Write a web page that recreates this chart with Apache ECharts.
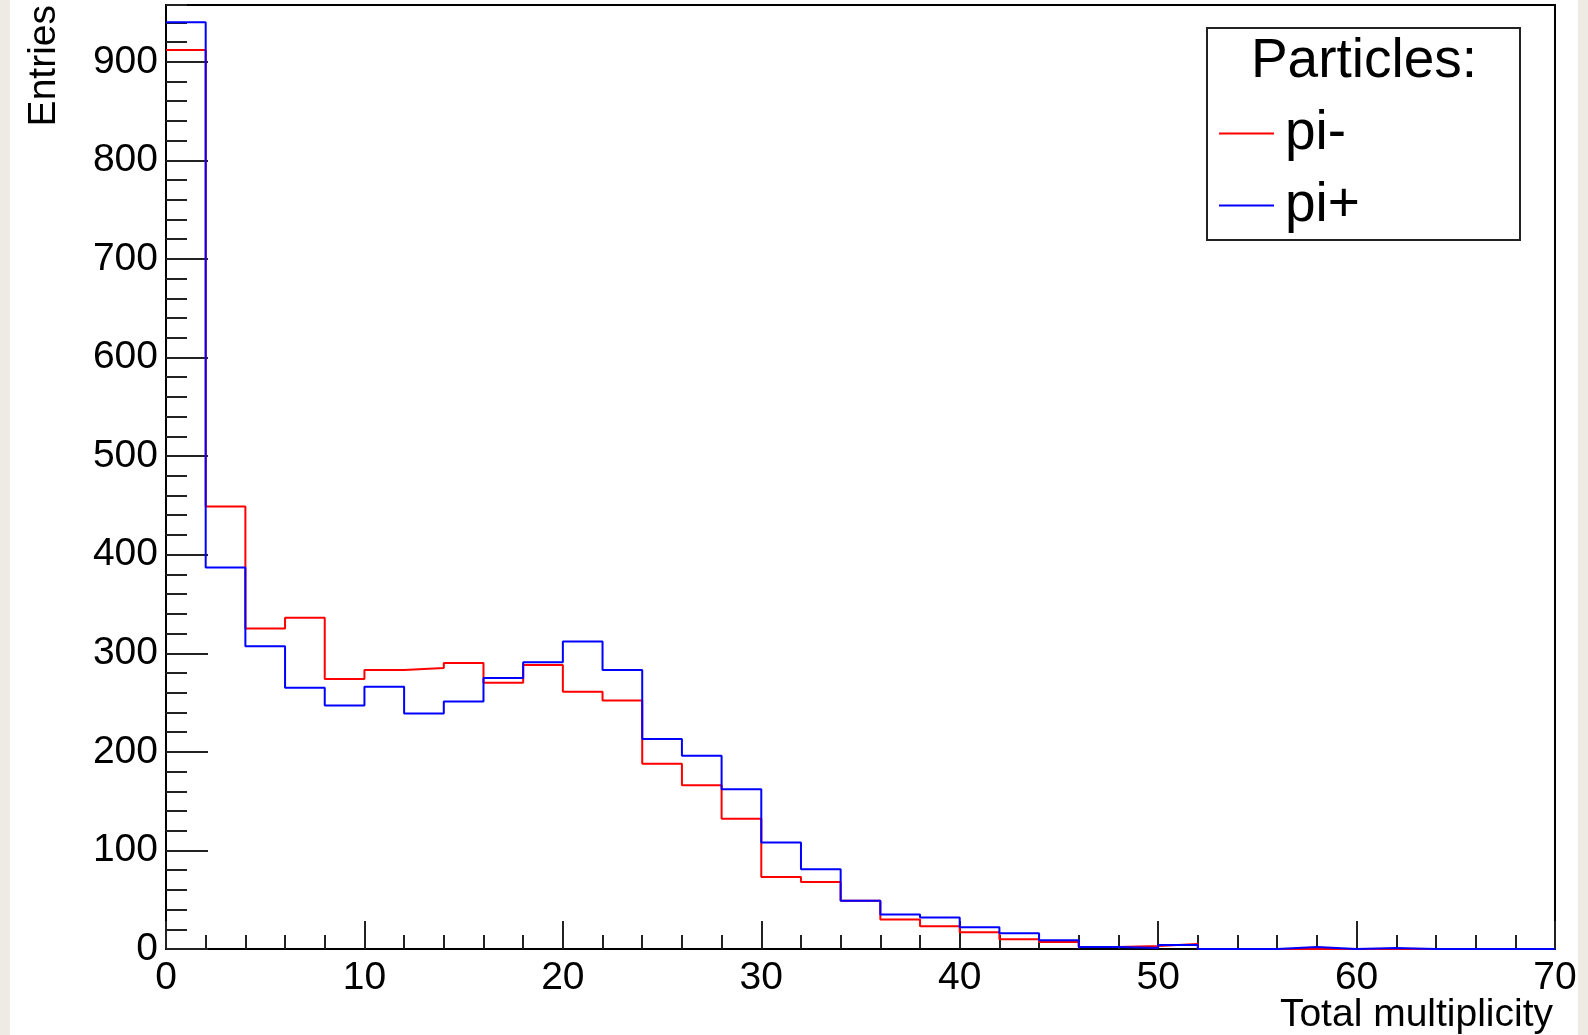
<!DOCTYPE html>
<html>
<head>
<meta charset="utf-8">
<script src="https://cdn.jsdelivr.net/npm/echarts@6/dist/echarts.min.js"></script>
<style>
  html, body { margin: 0; padding: 0; background: #ffffff; }
  #main { width: 1588px; height: 1035px; }
</style>
</head>
<body>
<div id="main"></div>
<script>
// bin edges of the histogram (Total multiplicity), width 2
var binEdges = [0, 2, 4, 6, 8, 10, 12, 14, 16, 18, 20, 22, 24, 26, 28, 30, 32, 34,
    36, 38, 40, 42, 44, 46, 48, 50, 52, 54, 56, 58, 60, 62, 64, 66, 68, 70];

// entries per bin
var piMinus = [912, 449, 325, 336, 274, 283, 285, 290, 270, 288, 261, 252, 188, 166, 132,
    73, 68, 49, 30, 23, 17, 10, 7, 2, 3, 5, 0, 0, 0, 0, 0, 0, 0, 0, 0];
var piPlus = [940, 387, 307, 265, 247, 266, 239, 251, 275, 291, 312, 283, 213, 196, 162,
    108, 81, 49, 35, 32, 22, 16, 9, 2, 1, 4, 0, 0, 2, 0, 1, 0, 0, 0, 0];

var seriesNames = ['pi-', 'pi+'];
var seriesColors = ['#ff0000', '#0000ff'];
var xTicks = [0, 10, 20, 30, 40, 50, 60, 70];

var yMax = 957.6;
var font = 'Liberation Sans, Arial, Helvetica, sans-serif';

var myChart = echarts.init(document.getElementById('main'));

function toSteps(values) {
    var pts = [];
    for (var i = 0; i < values.length; i++) {
        pts.push([binEdges[i], values[i]]);
    }
    pts.push([binEdges[binEdges.length - 1], values[values.length - 1]]);
    return pts;
}

var seriesData = [piMinus, piPlus].map(function(values, i) {
    return {
        name: seriesNames[i],
        type: 'line',
        step: 'end',
        xAxisIndex: 0,
        yAxisIndex: 0,
        showSymbol: false,
        symbol: 'none',
        lineStyle: { color: seriesColors[i], width: 2 },
        itemStyle: { color: seriesColors[i] },
        data: toSteps(values)
    };
});

var option = {
    backgroundColor: '#ffffff',
    animation: false,
    grid: {
        left: 166,
        right: 33,
        top: 5,
        bottom: 86,
        show: true,
        borderColor: '#000',
        borderWidth: 2,
        backgroundColor: '#ffffff'
    },
    legend: {
        orient: 'vertical',
        left: 1219,
        top: 106,
        padding: 0,
        itemGap: 17,
        itemWidth: 55,
        itemHeight: 2,
        icon: 'rect',
        data: seriesNames,
        textStyle: {
            color: '#000',
            fontFamily: font,
            fontSize: 55,
            lineHeight: 54,
            padding: [0, 0, 0, 6]
        }
    },
    xAxis: [{
        type: 'value',
        position: 'bottom',
        min: xTicks[0],
        max: xTicks[xTicks.length - 1],
        interval: 10,
        axisLine: { onZero: false, lineStyle: { color: '#000', width: 2 } },
        axisTick: { inside: true, length: 28, lineStyle: { color: '#222', width: 2 } },
        axisLabel: {
            color: '#000', fontFamily: font, fontSize: 39, margin: 10,
            showMinLabel: true, showMaxLabel: true
        },
        splitLine: { show: false }
    }, {
        type: 'value',
        position: 'bottom',
        min: xTicks[0],
        max: xTicks[xTicks.length - 1],
        interval: 2,
        axisLine: { show: false },
        axisTick: { inside: true, length: 14, lineStyle: { color: '#222', width: 2 } },
        axisLabel: { show: false },
        splitLine: { show: false }
    }],
    yAxis: [{
        type: 'value',
        position: 'left',
        min: 0,
        max: yMax,
        interval: 100,
        axisLine: { show: true, onZero: false, lineStyle: { color: '#000', width: 2 } },
        axisTick: { show: true, inside: true, length: 42, lineStyle: { color: '#222', width: 2 } },
        axisLabel: {
            color: '#000', fontFamily: font, fontSize: 39, margin: 8,
            padding: [5, 0, 0, 0],
            showMaxLabel: false
        },
        splitLine: { show: false }
    }, {
        type: 'value',
        position: 'left',
        min: 0,
        max: yMax,
        interval: 20,
        axisLine: { show: false },
        axisTick: { show: true, inside: true, length: 21, lineStyle: { color: '#222', width: 2 } },
        axisLabel: { show: false },
        splitLine: { show: false }
    }],
    graphic: [
        { type: 'rect', left: 0, top: 0, shape: { width: 10, height: 1035 }, style: { fill: '#eeebe4' } },
        { type: 'rect', left: 1578, top: 0, shape: { width: 10, height: 1035 }, style: { fill: '#eeebe4' } },
        {
            type: 'rect',
            shape: { x: 1207, y: 28, width: 313, height: 212 },
            style: { fill: 'none', stroke: '#222', lineWidth: 2 },
            z: 10
        },
        {
            type: 'text',
            x: 1364, y: 62,
            style: {
                text: 'Particles:', fill: '#000', font: '55px ' + font,
                align: 'center', verticalAlign: 'middle'
            },
            z: 10
        },
        {
            type: 'text',
            x: 44, y: 5,
            rotation: Math.PI / 2,
            style: {
                text: 'Entries', fill: '#000', font: '39px ' + font,
                align: 'right', verticalAlign: 'middle'
            }
        },
        {
            type: 'text',
            x: 1553, y: 1015,
            style: {
                text: 'Total multiplicity', fill: '#000', font: '39px ' + font,
                align: 'right', verticalAlign: 'middle'
            }
        }
    ],
    series: seriesData
};

myChart.setOption(option);
</script>
</body>
</html>
